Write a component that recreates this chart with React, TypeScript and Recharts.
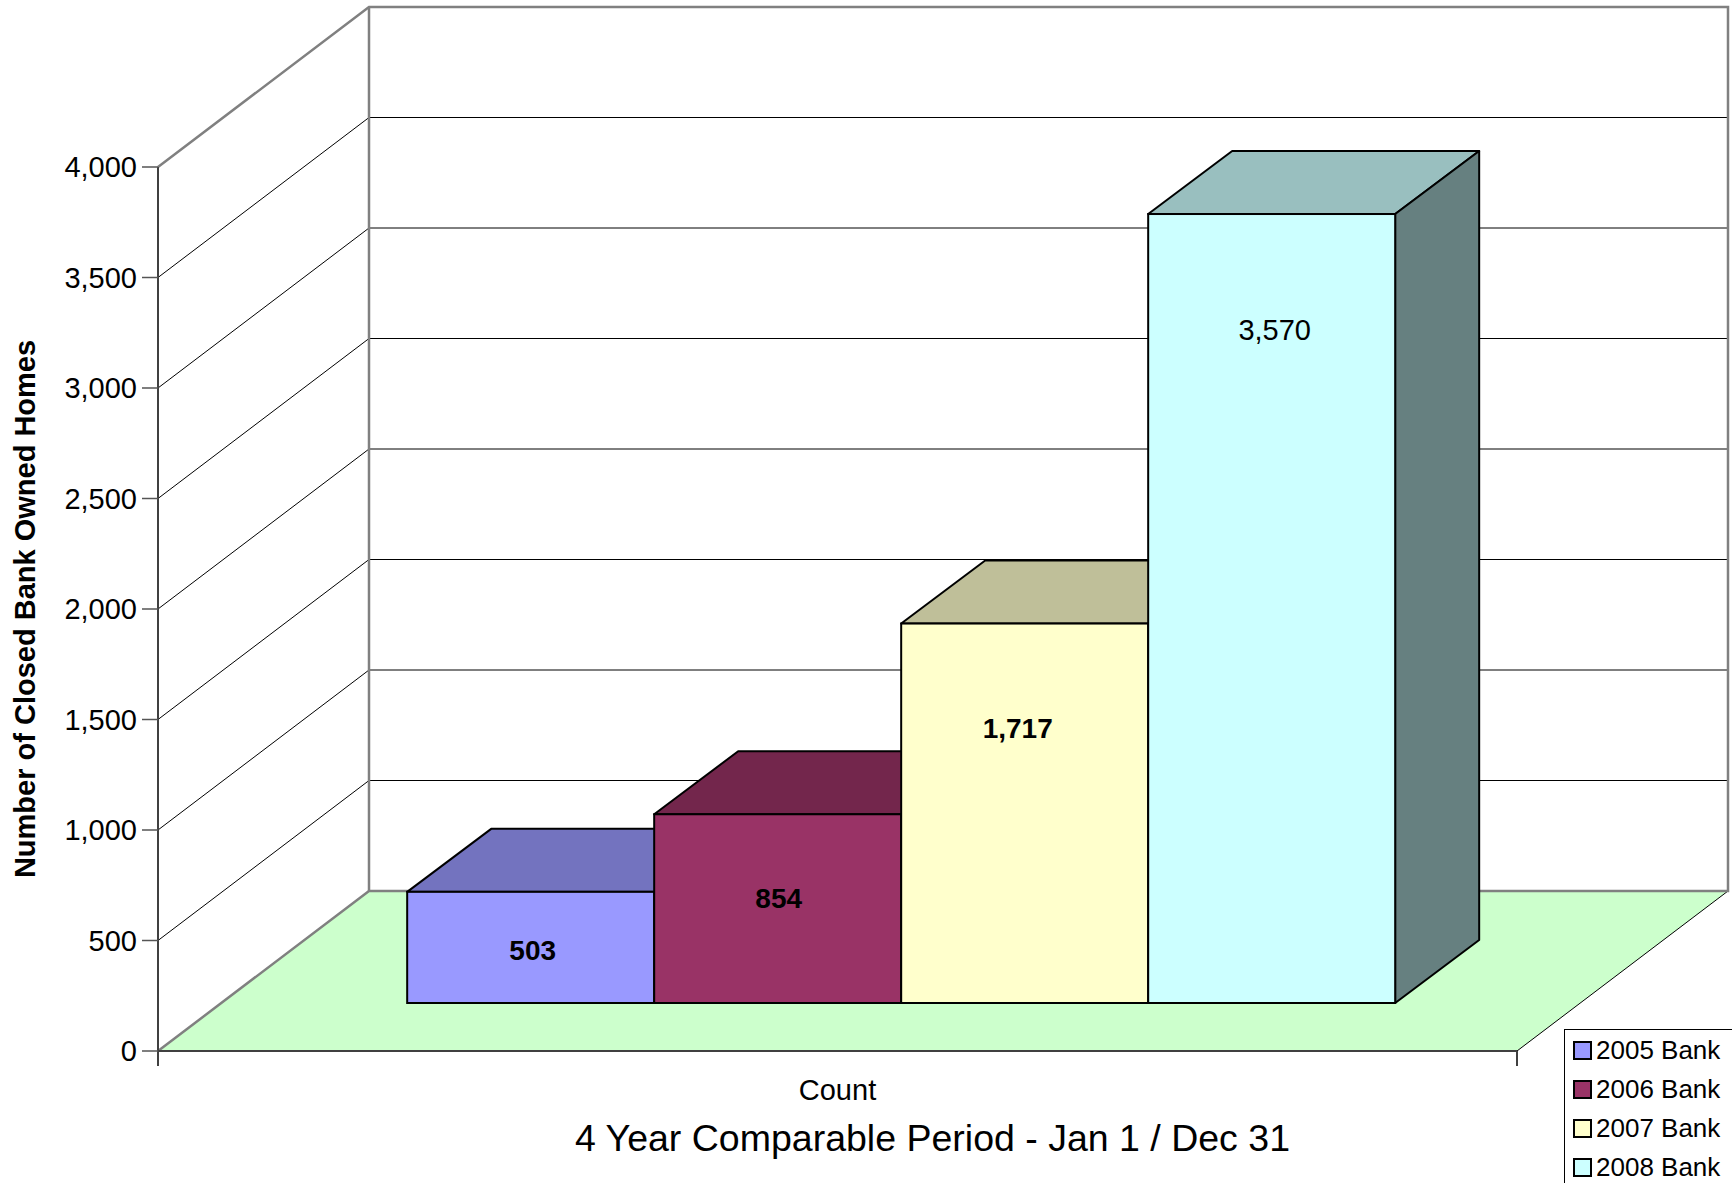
import { BarChart, Bar, XAxis, YAxis, CartesianGrid, Legend, Label } from 'recharts';

const CATEGORIES = ['Count'];
const SERIES = ['2005 Bank', '2006 Bank', '2007 Bank', '2008 Bank'];
const COUNTS = [503, 854, 1717, 3570];
const Y_TICKS = [0, 500, 1000, 1500, 2000, 2500, 3000, 3500, 4000];
const X_TITLE = '4 Year Comparable Period - Jan 1 / Dec 31';
const Y_TITLE = 'Number of Closed Bank Owned Homes';

const FRONT = ['#9999FF', '#993366', '#FFFFCC', '#CCFFFF'];
const TOP = ['#7373BF', '#73264C', '#BFBF99', '#99BFBF'];
const SIDE = ['#4D4D80', '#4D1A33', '#808066', '#668080'];
const LABEL_BOLD = [true, true, true, false];
const LABEL_DROP = [59, 84, 105, 116];
const LABEL_NUDGE = [2, 1, -7, 3];

const FONT = '"Liberation Sans", Arial, sans-serif';

// fake 3d: back wall offset, bar offset into the floor, bar depth
const WALL_DX = 211;
const WALL_DY = -160;
const BAR_SHIFT_X = 63;
const BAR_SHIFT_Y = -48;
const BAR_DX = 84;
const BAR_DY = -63;

const keys = SERIES.map((_, i) => `s${i}`);
const data = CATEGORIES.map((name) => {
  const row: Record<string, string | number> = { name };
  keys.forEach((k, i) => (row[k] = COUNTS[i]));
  return row;
});

const fmt = (v: number) => v.toLocaleString('en-US');

function Frame({ x, y, width, height }: any) {
  const b = y + height;
  const gray = '#808080';
  return (
    <g>
      <polygon
        points={`${x},${b} ${x + width},${b} ${x + width + WALL_DX},${b + WALL_DY} ${x + WALL_DX},${b + WALL_DY}`}
        fill="#CCFFCC"
        stroke="none"
      />
      <line x1={x + width} y1={b} x2={x + width + WALL_DX} y2={b + WALL_DY} stroke="#000" strokeWidth={1} />
      <polyline
        points={`${x},${b} ${x + WALL_DX},${b + WALL_DY} ${x + width + WALL_DX},${b + WALL_DY} ${x + width + WALL_DX},${y + WALL_DY} ${x + WALL_DX},${y + WALL_DY} ${x},${y}`}
        fill="none"
        stroke={gray}
        strokeWidth={2.5}
      />
      <line x1={x + WALL_DX} y1={y + WALL_DY} x2={x + WALL_DX} y2={b + WALL_DY} stroke={gray} strokeWidth={2.5} />
      <line x1={x} y1={b} x2={x} y2={b + 15} stroke="#404040" strokeWidth={2} />
      <line x1={x + width} y1={b} x2={x + width} y2={b + 15} stroke="#404040" strokeWidth={2} />
    </g>
  );
}

function gridLine(p: any) {
  const { x1, y1, x2, index, horizontalPoints } = p;
  const last = index === horizontalPoints.length - 1;
  return (
    <g key={`grid-${index}`}>
      <line x1={x1} y1={y1} x2={x1 + WALL_DX} y2={y1 + WALL_DY} stroke="#000" strokeWidth={1} />
      <line x1={x1 + WALL_DX} y1={y1 + WALL_DY} x2={x2 + WALL_DX} y2={y1 + WALL_DY} stroke="#000" strokeWidth={1} />
      {last && <Frame x={p.x} y={p.y} width={p.width} height={p.height} />}
    </g>
  );
}

function Box3D(props: any) {
  const { x, y, width, height, s } = props;
  const fx = x + BAR_SHIFT_X;
  const fy = y + BAR_SHIFT_Y;
  const w = width;
  const h = height;
  return (
    <g>
      <polygon
        points={`${fx},${fy} ${fx + BAR_DX},${fy + BAR_DY} ${fx + w + BAR_DX},${fy + BAR_DY} ${fx + w},${fy}`}
        fill={TOP[s]}
        stroke="#000"
        strokeWidth={2}
        strokeLinejoin="round"
      />
      <polygon
        points={`${fx + w},${fy} ${fx + w + BAR_DX},${fy + BAR_DY} ${fx + w + BAR_DX},${fy + h + BAR_DY} ${fx + w},${fy + h}`}
        fill={SIDE[s]}
        stroke="#000"
        strokeWidth={2}
        strokeLinejoin="round"
      />
      <rect x={fx} y={fy} width={w} height={h} fill={FRONT[s]} stroke="#000" strokeWidth={2} />
      <text
        x={fx + w / 2 + LABEL_NUDGE[s]}
        y={fy + LABEL_DROP[s]}
        textAnchor="middle"
        dominantBaseline="central"
        fontFamily={FONT}
        fontSize={LABEL_BOLD[s] ? 28 : 29}
        fontWeight={LABEL_BOLD[s] ? 'bold' : 'normal'}
        fill="#000"
      >
        {fmt(COUNTS[s])}
      </text>
    </g>
  );
}

function LegendBox() {
  return (
    <div
      style={{
        width: 180,
        height: 170,
        border: '1px solid #000',
        background: '#fff',
        boxSizing: 'border-box',
        fontFamily: FONT,
        fontSize: 26,
        paddingTop: 1,
      }}
    >
      {SERIES.map((s, i) => (
        <div key={s} style={{ display: 'flex', alignItems: 'center', height: 39, paddingLeft: 8 }}>
          <span
            style={{
              display: 'inline-block',
              width: 15,
              height: 15,
              background: FRONT[i],
              border: '2px solid #000',
              marginRight: 4,
            }}
          />
          <span style={{ color: '#000', whiteSpace: 'nowrap' }}>{s}</span>
        </div>
      ))}
    </div>
  );
}

export default function App() {
  return (
    <div style={{ position: 'absolute', left: 0, top: 0, width: 1732, height: 1183, overflow: 'hidden', background: '#fff' }}>
      <BarChart
        width={1732}
        height={1183}
        data={data}
        margin={{ top: 167, right: 215, bottom: 0, left: 0 }}
        barCategoryGap="13.7%"
        barGap={0}
      >
        <CartesianGrid vertical={false} horizontal={gridLine} />
        <XAxis
          dataKey="name"
          height={132}
          axisLine={{ stroke: '#404040', strokeWidth: 2 }}
          tickLine={false}
          tickMargin={22}
          tick={{ fontSize: 29, fontFamily: FONT, fill: '#000' }}
        >
          <Label
            content={(p: any) => {
              const vb = p.viewBox;
              return (
                <text
                  x={vb.x + vb.width / 2 + 95}
                  y={1151}
                  textAnchor="middle"
                  fontFamily={FONT}
                  fontSize={37.5}
                  fill="#000"
                >
                  {X_TITLE}
                </text>
              );
            }}
          />
        </XAxis>
        <YAxis
          type="number"
          width={158}
          domain={[0, 4000]}
          ticks={Y_TICKS}
          tickFormatter={fmt}
          axisLine={{ stroke: '#404040', strokeWidth: 2 }}
          tickLine={{ stroke: '#555', strokeWidth: 1.5 }}
          tickSize={16}
          tickMargin={5}
          tick={{ fontSize: 29, fontFamily: FONT, fill: '#000' }}
        >
          <Label
            content={(p: any) => {
              const vb = p.viewBox;
              const cy = vb.y + vb.height / 2;
              return (
                <text
                  x={35}
                  y={cy}
                  transform={`rotate(-90, 35, ${cy})`}
                  textAnchor="middle"
                  fontFamily={FONT}
                  fontSize={29}
                  fontWeight="bold"
                  fill="#000"
                >
                  {Y_TITLE}
                </text>
              );
            }}
          />
        </YAxis>
        <Legend
          layout="vertical"
          align="center"
          verticalAlign="middle"
          content={() => <LegendBox />}
          wrapperStyle={{ left: 1564, top: 1029, width: 180, height: 170 }}
        />
        {keys.map((k, i) => (
          <Bar
            key={k}
            dataKey={k}
            name={SERIES[i]}
            fill={FRONT[i]}
            isAnimationActive={false}
            shape={(p: any) => <Box3D {...p} s={i} />}
          />
        ))}
      </BarChart>
    </div>
  );
}
